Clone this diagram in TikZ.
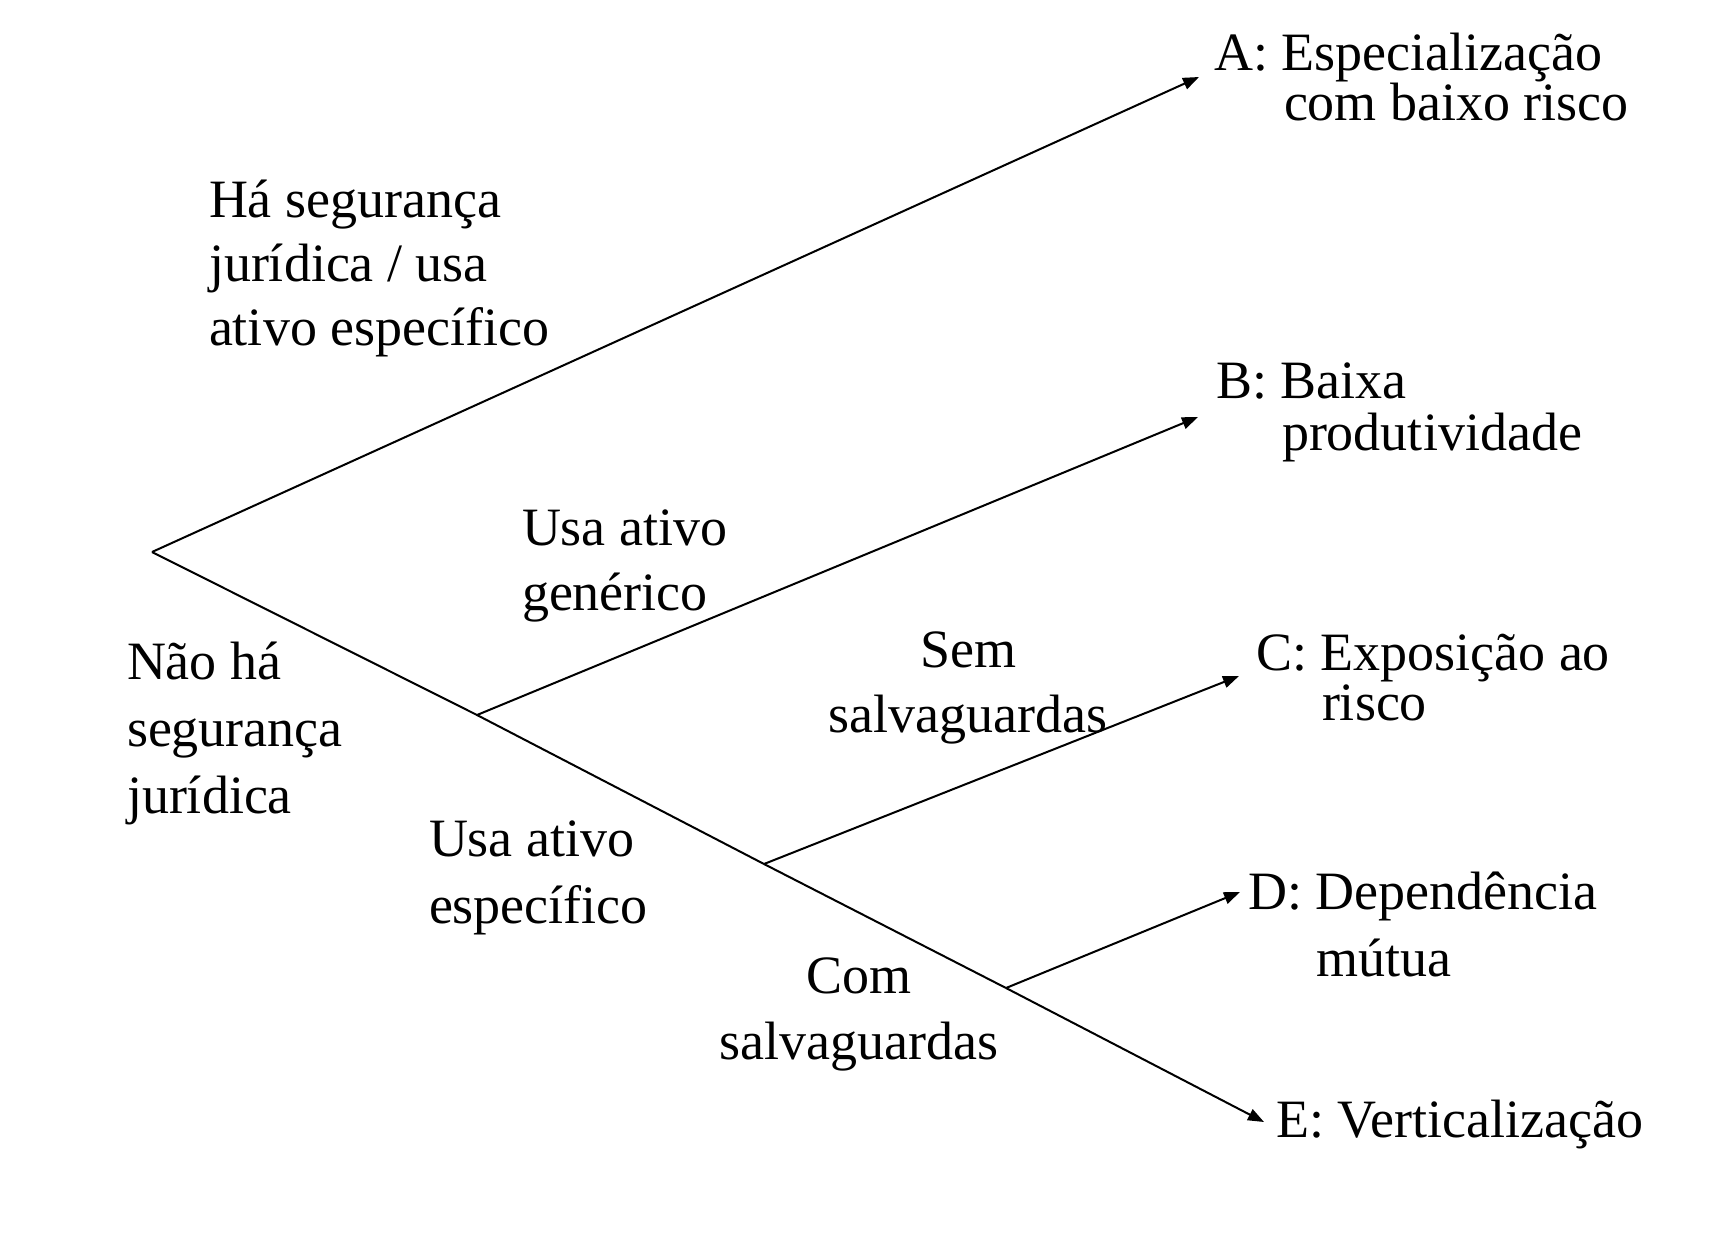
\documentclass[tikz,border=0pt]{standalone}
\usepackage{fontspec}
\setmainfont{Liberation Serif}
\usetikzlibrary{arrows.meta}
\newcommand\lblfont[1]{\fontsize{27}{#1}\selectfont}
\begin{document}
\begin{tikzpicture}[x=0.5pt,y=-0.5pt,
  lbl/.style={inner sep=0pt, outer sep=0pt, anchor=base west, align=left},
  conn/.style={line width=1pt, draw=black},
  arr/.style={conn, -{Triangle[length=8pt,width=6pt]}}]
\useasboundingbox (0,0) rectangle (1724,1248);
% branching points and arrow tips
\coordinate (root) at (152,552);
\coordinate (b1) at (477,715);
\coordinate (b2) at (764,864);
\coordinate (b3) at (1006,988);
\coordinate (tipA) at (1199,77);
\coordinate (tipB) at (1198,417);
\coordinate (tipC) at (1239,676);
\coordinate (tipD) at (1240,892);
\coordinate (tipE) at (1264,1122);
% labels (anchored at the baseline of their last line)
\node[lbl, font=\lblfont{32}] (hasj) at (209,345) {Há segurança\\jurídica / usa\\ativo específico};
\node[lbl, font=\lblfont{32.5}] (usagen) at (522,610) {Usa ativo\\genérico};
\node[lbl, font=\lblfont{33.5}] (naoha) at (127,813) {Não há\\segurança\\jurídica};
\node[lbl, font=\lblfont{33.5}] (usaesp) at (429,923) {Usa ativo\\específico};
\node[lbl, align=center, anchor=base, font=\lblfont{32.5}] (sem) at (968,732) {Sem\\salvaguardas};
\node[lbl, align=center, anchor=base, font=\lblfont{33}] (com) at (859,1059) {Com\\salvaguardas};
% outcomes
\node[lbl, font=\lblfont{25}] (outA) at (1214,120) {A: Especialização\\\hspace*{35pt}com baixo risco};
\node[lbl, font=\lblfont{26}] (outB) at (1216,450) {B: Baixa\\\hspace*{33pt}produtividade};
\node[lbl, font=\lblfont{25}] (outC) at (1256,720) {C: Exposição ao\\\hspace*{33pt}risco};
\node[lbl, font=\lblfont{33.5}] (outD) at (1248,976) {D: Dependência\\\hspace*{34pt}mútua};
\node[lbl, font=\lblfont{26}] (outE) at (1276,1137) {E: Verticalização};
% connectors
\draw[arr] (root) -- (tipA);
\draw[conn] (root) -- (b1) -- (b2) -- (b3);
\draw[arr] (b3) -- (tipE);
\draw[arr] (b1) -- (tipB);
\draw[arr] (b2) -- (tipC);
\draw[arr] (b3) -- (tipD);
\end{tikzpicture}
\end{document}
